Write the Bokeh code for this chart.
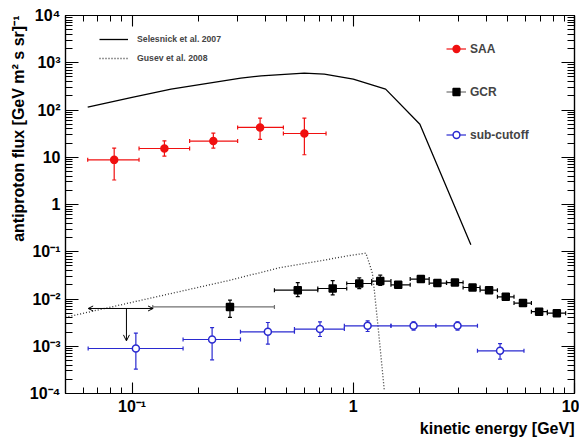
import math
from bokeh.plotting import figure
from bokeh.models import (Range1d, LogAxis, FixedTicker, Legend, LegendItem, Title,
                          Arrow, OpenHead, ColumnDataSource)
from bokeh.embed import file_html
from bokeh.resources import INLINE

# ---------------- data ----------------
x_ticks = [0.1, 1.0, 10.0]
x_tick_labels = ["10⁻¹", "1", "10"]
y_ticks = [1e-4, 1e-3, 1e-2, 1e-1, 1.0, 10.0, 100.0, 1e3, 1e4]
y_tick_labels = ["10⁻⁴", "10⁻³", "10⁻²", "10⁻¹", "1", "10", "10²", "10³", "10⁴"]

# Selesnick et al. 2007 (model curve)
sel_x = [0.063, 0.10, 0.15, 0.31, 0.383, 0.60, 0.74, 1.0, 1.4, 2.0, 3.4]
sel_y = [115, 186, 277, 473, 530, 604, 575, 451, 277, 50, 0.14]

# Gusev et al. 2008 (model curve)
gus_x = [0.05, 0.27, 0.47, 0.715, 0.943, 1.14, 1.19, 1.22, 1.245, 1.29, 1.333, 1.38]
gus_y = [0.0041, 0.0243, 0.0465, 0.0646, 0.082, 0.0935, 0.051, 0.035, 0.015, 0.003, 6.3e-4, 1.2e-4]

# SAA
saa_x = [0.083, 0.140, 0.233, 0.379, 0.601]
saa_y = [8.8, 15.3, 22.0, 42.7, 31.8]
saa_xlo = [0.063, 0.1075, 0.182, 0.300, 0.483]
saa_xhi = [0.1075, 0.182, 0.300, 0.483, 0.753]
saa_ylo = [3.3, 10.6, 15.6, 23.8, 11.3]
saa_yhi = [15.6, 22.3, 32.5, 67.5, 67.5]

# GCR
gcr_x = [0.277, 0.561, 0.807, 1.064, 1.324, 1.596, 2.02, 2.40, 2.88, 3.46, 4.11, 4.89, 5.85, 6.92, 8.32]
gcr_y = [0.0068, 0.0154, 0.0167, 0.0213, 0.0239, 0.0200, 0.0264, 0.0217, 0.0223, 0.0175,
         0.0154, 0.0111, 0.0082, 0.0054, 0.0050]
gcr_xlo = [0.124, 0.44, 0.691, 0.934, 1.211, 1.480, 1.808, 2.203, 2.639, 3.136, 3.742, 4.483,
           5.328, 6.385, 7.539]
gcr_xhi = [0.44, 0.691, 0.934, 1.211, 1.480, 1.808, 2.203, 2.639, 3.136, 3.742, 4.483, 5.328,
           6.385, 7.539, 9.117]
gcr_ylo = [0.0041, 0.0112, 0.0122, 0.0165, 0.0195, 0.0180, 0.0240, 0.0198, 0.0203, 0.0160,
           0.0140, 0.0101, 0.0075, 0.0049, 0.0046]
gcr_yhi = [0.0095, 0.0223, 0.0245, 0.0279, 0.0320, 0.0222, 0.0290, 0.0238, 0.0245, 0.0192,
           0.0169, 0.0122, 0.0090, 0.0059, 0.0055]

# GCR upper limit
ul_x = 0.0943
ul_y = 0.0063
ul_xlo = 0.0633
ul_xhi = 0.1244
ul_yend = 0.0013

# sub-cutoff
sub_x = [0.104, 0.230, 0.411, 0.707, 1.161, 1.873, 2.959, 4.607]
sub_y = [8.96e-4, 1.39e-3, 2.02e-3, 2.31e-3, 2.71e-3, 2.71e-3, 2.71e-3, 8.0e-4]
sub_xlo = [0.0633, 0.170, 0.309, 0.542, 0.911, 1.480, 2.362, 3.642]
sub_xhi = [0.170, 0.309, 0.542, 0.911, 1.480, 2.362, 3.642, 5.910]
sub_ylo = [3.28e-4, 5.16e-4, 1.11e-3, 1.61e-3, 2.05e-3, 2.20e-3, 2.20e-3, 5.35e-4]
sub_yhi = [1.90e-3, 2.49e-3, 3.18e-3, 3.29e-3, 3.46e-3, 3.29e-3, 3.29e-3, 1.14e-3]

x_title = "kinetic energy [GeV]"
y_title = "antiproton flux [GeV m² s sr]⁻¹"

# ---------------- figure ----------------
FONT = "Liberation Sans"
RED = "#f01010"
BLUE = "#2a2ad0"

p = figure(width=579, height=437, x_axis_type="log", y_axis_type="log",
           x_range=Range1d(0.05, 10), y_range=Range1d(1e-4, 1e4),
           output_backend="svg", toolbar_location=None,
           min_border_left=65, min_border_right=5, min_border_top=15, min_border_bottom=44)
p.grid.visible = False
p.outline_line_color = "black"
p.outline_line_width = 1.2
p.background_fill_color = "white"
p.border_fill_color = "white"

x_minor = [m * 10.0 ** e for e in (-2, -1, 0) for m in range(2, 10)]
y_minor = [m * 10.0 ** e for e in range(-4, 4) for m in range(2, 10)]


def style_axis(ax, tin, tmin, labels=True):
    ax.major_tick_in = tin
    ax.major_tick_out = 0
    ax.minor_tick_in = tmin
    ax.minor_tick_out = 0
    ax.axis_line_color = "black"
    ax.axis_line_width = 1.2
    ax.major_tick_line_color = "black"
    ax.minor_tick_line_color = "black"
    ax.major_tick_line_width = 1.1
    ax.minor_tick_line_width = 1.0
    if labels:
        ax.major_label_text_font = FONT
        ax.major_label_text_font_style = "bold"
        ax.major_label_text_font_size = "16px"
        ax.major_label_text_color = "black"
    else:
        ax.major_label_text_font_size = "1px"
        ax.major_label_text_alpha = 0
        ax.major_label_standoff = 0


xa = p.xaxis[0]
xa.ticker = FixedTicker(ticks=x_ticks, minor_ticks=x_minor)
xa.major_label_overrides = dict(zip(x_ticks, x_tick_labels))
style_axis(xa, 11, 6)
xa.major_label_standoff = 4

ya = p.yaxis[0]
ya.ticker = FixedTicker(ticks=y_ticks, minor_ticks=y_minor)
ya.major_label_overrides = dict(zip(y_ticks, y_tick_labels))
style_axis(ya, 13, 7)
ya.major_label_standoff = 5

top = LogAxis(ticker=FixedTicker(ticks=x_ticks, minor_ticks=x_minor))
top.major_label_overrides = {t: " " for t in x_ticks}
style_axis(top, 11, 6, labels=False)
p.add_layout(top, "above")
right = LogAxis(ticker=FixedTicker(ticks=y_ticks, minor_ticks=y_minor))
right.major_label_overrides = {t: " " for t in y_ticks}
style_axis(right, 13, 7, labels=False)
p.add_layout(right, "right")

# model curves
sel_r = p.line(sel_x, sel_y, line_color="black", line_width=1.3)
gus_r = p.line(gus_x, gus_y, line_color="#333333", line_width=1.3, line_dash="1 2")


def data_series(x, y, xlo, xhi, ylo, yhi, color, marker, fill, size, xbar_colors=None):
    src = ColumnDataSource(dict(x=x, y=y, xlo=xlo, xhi=xhi, ylo=ylo, yhi=yhi,
                                xc=xbar_colors if xbar_colors else [color] * len(x)))
    xb = p.segment(x0="xlo", y0="y", x1="xhi", y1="y", source=src, line_color="xc", line_width=1.2)
    p.segment(x0="x", y0="ylo", x1="x", y1="yhi", source=src, line_color=color, line_width=1.2)
    for col in ("ylo", "yhi"):
        p.scatter(x="x", y=col, source=src, marker="dash", size=4, line_color=color, line_width=1.2)
    for col in ("xlo", "xhi"):
        p.scatter(x=col, y="y", source=src, marker="dash", angle=math.pi / 2, size=4,
                  line_color="xc", line_width=1.2)
    mk = p.scatter(x="x", y="y", source=src, marker=marker, size=size, fill_color=fill,
                   line_color=color, line_width=1.5)
    return xb, mk


saa_xb, saa_mk = data_series(saa_x, saa_y, saa_xlo, saa_xhi, saa_ylo, saa_yhi, RED, "circle", RED, 7)
gcr_colors = ["#707070"] + ["black"] * (len(gcr_x) - 1)
gcr_xb, gcr_mk = data_series(gcr_x, gcr_y, gcr_xlo, gcr_xhi, gcr_ylo, gcr_yhi, "black", "square",
                             "black", 7, xbar_colors=gcr_colors)
sub_xb, sub_mk = data_series(sub_x, sub_y, sub_xlo, sub_xhi, sub_ylo, sub_yhi, BLUE, "circle",
                             "white", 7)

# upper limit arrows
p.add_layout(Arrow(start=OpenHead(size=5, line_width=1), end=OpenHead(size=5, line_width=1),
                   x_start=ul_xlo, y_start=ul_y, x_end=ul_xhi, y_end=ul_y,
                   line_color="black", line_width=1))
p.add_layout(Arrow(end=OpenHead(size=6, line_width=1),
                   x_start=ul_x, y_start=ul_y, x_end=ul_x, y_end=ul_yend,
                   line_color="black", line_width=1))

# legends
leg1 = Legend(items=[LegendItem(label="Selesnick et al. 2007", renderers=[sel_r]),
                     LegendItem(label="Gusev et al. 2008", renderers=[gus_r])],
              location=(34, 329), orientation="vertical", margin=0, padding=0,
              glyph_width=29, glyph_height=12, label_height=12, spacing=7, label_standoff=9,
              label_text_font=FONT, label_text_font_style="bold", label_text_font_size="8.7px",
              border_line_alpha=0, background_fill_alpha=0)
leg2 = Legend(items=[LegendItem(label="SAA", renderers=[saa_xb, saa_mk]),
                     LegendItem(label="GCR", renderers=[gcr_xb, gcr_mk]),
                     LegendItem(label="sub-cutoff", renderers=[sub_xb, sub_mk])],
              location=(381, 250), orientation="vertical", margin=0, padding=0,
              glyph_width=20, glyph_height=17, label_height=17, spacing=26, label_standoff=4,
              label_text_font=FONT, label_text_font_style="bold", label_text_font_size="12px",
              border_line_alpha=0, background_fill_alpha=0)
p.add_layout(leg1)
p.add_layout(leg2)

# axis titles (ROOT style: right-aligned at the end of each axis)
p.add_layout(Title(text=x_title, align="right", standoff=0, text_font=FONT, text_line_height=1.0,
                   text_font_style="bold", text_font_size="16px", text_color="black"), "below")
p.add_layout(Title(text=y_title, align="right", standoff=0, text_font=FONT, text_line_height=1.0,
                   text_font_style="bold", text_font_size="16px", text_color="black"), "left")

open("out.html", "w").write(file_html(p, INLINE))
